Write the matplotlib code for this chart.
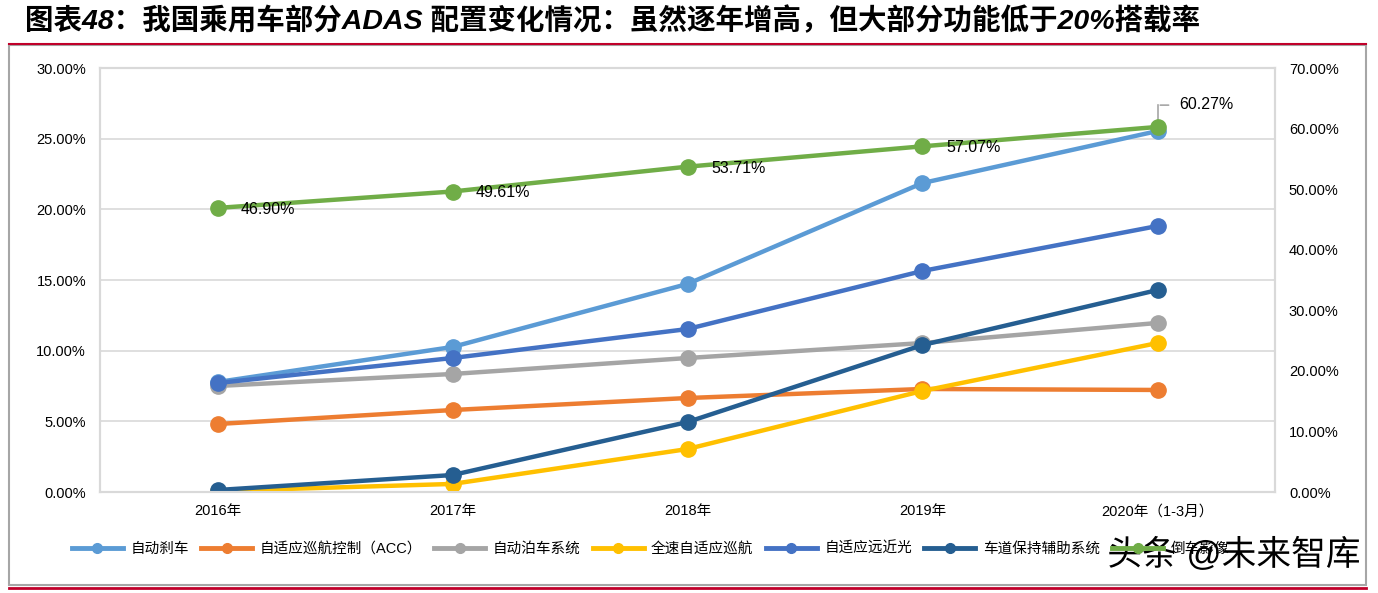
import matplotlib
matplotlib.use("Agg")
import matplotlib.pyplot as plt
from matplotlib.patches import Rectangle
from matplotlib.lines import Line2D
import matplotlib.patheffects as pe
import numpy as np

plt.rcParams['font.family'] = ['Liberation Sans', 'Noto Sans CJK SC', 'DejaVu Sans']

years = ["2016年", "2017年", "2018年", "2019年", "2020年（1-3月）"]

# left axis series (share of cars, %)
auto_brake = [7.78, 10.26, 14.72, 21.86, 25.54]
acc = [4.81, 5.80, 6.65, 7.29, 7.22]
auto_park = [7.50, 8.35, 9.48, 10.54, 11.96]
full_acc = [0.07, 0.57, 3.04, 7.15, 10.54]
adaptive_light = [7.71, 9.48, 11.53, 15.64, 18.82]
lane_keep = [0.14, 1.20, 4.95, 10.40, 14.29]
# right axis series
reverse_cam = [46.90, 49.61, 53.71, 57.07, 60.27]

names = ["自动刹车", "自适应巡航控制（ACC）", "自动泊车系统", "全速自适应巡航",
         "自适应远近光", "车道保持辅助系统", "倒车影像"]
colors = ["#5B9BD5", "#ED7D31", "#A5A5A5", "#FFC000", "#4472C4", "#255E91", "#70AD47"]

fig = plt.figure(figsize=(13.78, 5.93), dpi=100)

# outer frame and red rules
W, H = 1378.0, 593.0
fig.patches.append(Rectangle((9 / W, 1 - 585 / H), 1357 / W, 540 / H, transform=fig.transFigure,
                             fill=False, edgecolor="#A6A6A6", linewidth=1.5))
fig.add_artist(Line2D([9 / W, 1366 / W], [1 - 44 / H, 1 - 44 / H], color="#C0002A", linewidth=1.5))
fig.add_artist(Line2D([9 / W, 1366 / W], [1 - 588 / H, 1 - 588 / H], color="#C0002A", linewidth=2))

fig.text(0.018, 0.965, "图表48：我国乘用车部分ADAS 配置变化情况：虽然逐年增高，但大部分功能低于20%搭载率",
         fontsize=20.5, fontweight="heavy", fontstyle="italic", va="center", ha="left")

ax = fig.add_axes([100 / W, 1 - 492 / H, 1175 / W, 424 / H])
ax2 = ax.twinx()

x = np.arange(len(years))
left_series = [auto_brake, acc, auto_park, full_acc, adaptive_light, lane_keep]
for vals, c in zip(left_series, colors[:6]):
    ax.plot(x, np.array(vals) / 100, color=c, linewidth=3.2, marker="o", markersize=11, zorder=3)

ax2.plot(x, np.array(reverse_cam) / 100, color=colors[6], linewidth=3.2, marker="o", markersize=11, zorder=3)

ax.set_xlim(-0.5, len(years) - 0.5)
ax.set_ylim(0, 0.30)
ax2.set_ylim(0, 0.70)
ax.set_yticks(np.arange(0, 0.301, 0.05))
ax2.set_yticks(np.arange(0, 0.701, 0.10))
ax.set_yticklabels(["%.2f%%" % (v * 100) for v in np.arange(0, 0.301, 0.05)])
ax2.set_yticklabels(["%.2f%%" % (v * 100) for v in np.arange(0, 0.701, 0.10)])
ax.set_xticks(x)
ax.set_xticklabels(years)
ax.grid(axis="y", color="#D9D9D9", linewidth=1.2, zorder=0)
ax.set_axisbelow(True)

for a in (ax, ax2):
    for s in a.spines.values():
        s.set_color("#D9D9D9")
        s.set_linewidth(1.5)
    a.tick_params(length=0, labelsize=10.5, colors="black")
ax.tick_params(axis="y", pad=10)
ax2.tick_params(axis="y", pad=10)
ax.tick_params(axis="x", pad=9)

# data labels on the right-axis series
for i, v in enumerate(reverse_cam[:-1]):
    ax2.annotate("%.2f%%" % v, (i, v / 100), xytext=(17, -1), textcoords="offset points",
                 fontsize=11.5, va="center", ha="left")
ax2.annotate("%.2f%%" % reverse_cam[-1], (4, reverse_cam[-1] / 100), xytext=(16, 16),
             textcoords="offset points", fontsize=11.5, va="center", ha="left")
ax2.add_artist(Line2D([4, 4], [reverse_cam[-1] / 100 + 0.005, reverse_cam[-1] / 100 + 0.036],
                      color="#A6A6A6", linewidth=1.2))
ax2.annotate("", (4, reverse_cam[-1] / 100 + 0.036), xytext=(10, 0), textcoords="offset points",
             arrowprops=dict(arrowstyle="-", color="#A6A6A6", linewidth=1.2))

handles = [Line2D([0], [0], color=c, linewidth=3.5, marker="o", markersize=7) for c in colors]
fig.legend(handles, names, loc="center", bbox_to_anchor=(0.472, 1 - 549 / H), ncol=7,
           frameon=False, fontsize=10.5, handlelength=3.5, columnspacing=0.85, handletextpad=0.5)

fig.text(1234 / W, 1 - 555 / H, "头条 @未来智库", fontsize=25, ha="center", va="center", color="black",
         path_effects=[pe.withStroke(linewidth=3, foreground="white")])

fig.savefig("out.png", dpi=100)
